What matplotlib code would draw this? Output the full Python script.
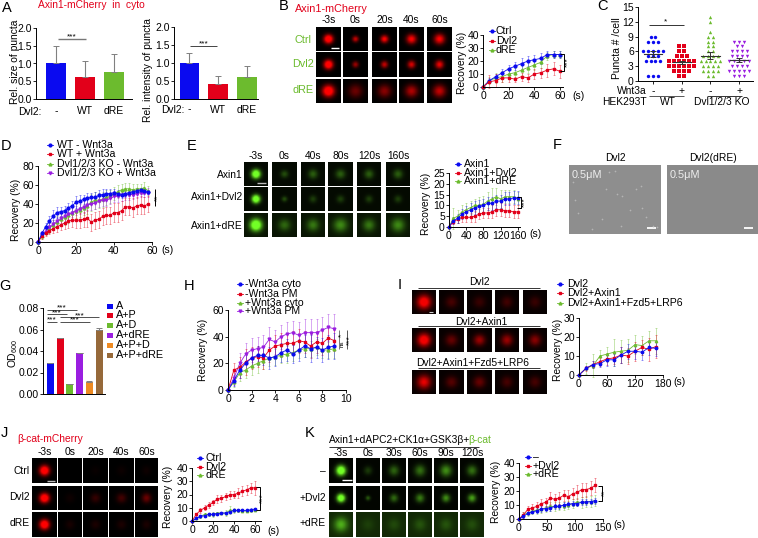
import numpy as np
import matplotlib
matplotlib.use('Agg')
import matplotlib.pyplot as plt

plt.rcParams['font.family'] = ['Liberation Sans', 'DejaVu Sans']
plt.rcParams['mathtext.default'] = 'regular'
plt.rcParams['font.size'] = 7.4

W, H = 758, 538
BLUE, RED, GREEN, PURPLE = '#0a0af0', '#e2001a', '#6cbb2e', '#9a1ee0'
ORANGE, BROWN = '#ee8a22', '#96693a'
COLORS = [BLUE, RED, GREEN, PURPLE]
MARKERS = ['o', 's', '^', 'v']

# panel A
a_labels = ['-', 'WT', 'dRE']
a_size = [1.0, 0.61, 0.75]
a_size_err = [0.5, 0.46, 0.52]
a_int = [1.0, 0.42, 0.62]
a_int_err = [0.28, 0.22, 0.30]

# panel B
b_t = [0, 5, 10, 15, 20, 25, 30, 35, 40, 45, 50, 55, 60]
b_ctrl = [0, 5, 8, 11, 14, 16, 18, 20, 21, 22, 25, 25, 25]
b_ctrl_e = [0, 2, 2, 3, 3, 3, 4, 4, 4, 4, 3, 3, 3]
b_dvl2 = [0, 4, 5, 7, 7, 6, 8, 7, 10, 11, 13, 14, 12]
b_dvl2_e = [0, 5, 5, 3, 3, 2, 3, 3, 4, 4, 5, 5, 5]
b_dre = [0, 5, 7, 8, 10, 11, 13, 15, 17, 19, 24, 25, 25]
b_dre_e = [0, 3, 4, 4, 4, 4, 4, 4, 4, 4, 3, 3, 3]

# panel C
c_labels = ['-', '+', '-', '+']
c_wt_minus = [9]*2 + [8]*3 + [6]*5 + [5]*3 + [4]*4 + [1]*3
c_wt_plus = [7]*2 + [6]*2 + [5]*3 + [4]*6 + [3]*6 + [2]*4 + [1]*2
c_ko_minus = [13, 12, 10] + [9]*2 + [8]*2 + [7]*2 + [6]*2 + [5]*4 + [4]*5 + [3]*4 + [2]*4 + [1]*2
c_ko_plus = [8]*3 + [7]*2 + [6]*4 + [5]*4 + [4]*5 + [3]*4 + [2]*5 + [1]*3
c_means = [5.4, 3.8, 5.1, 4.2]
c_sems = [0.6, 0.3, 0.7, 0.4]

# panel D
d_t = list(range(0, 60, 2))
d_wt = [0, 9, 16, 22, 27, 31, 32, 33, 36, 38, 42, 43, 45, 46, 47, 47, 49, 50, 51, 51, 52, 51, 50, 51, 52, 53, 54, 55, 54, 53]
d_wt_e = [0, 3, 4, 5, 7, 6, 5, 5, 5, 5, 6, 6, 5, 6, 5, 6, 6, 6, 5, 5, 4, 4, 4, 4, 4, 3, 3, 2, 2, 2]
d_wtw = [0, 6, 10, 12, 14, 16, 18, 20, 22, 23, 23, 23, 24, 25, 21, 23, 24, 27, 28, 28, 31, 31, 33, 37, 37, 36, 38, 39, 38, 40]
d_wtw_e = [0, 3, 4, 4, 4, 5, 5, 6, 7, 7, 8, 8, 8, 9, 9, 9, 9, 9, 9, 9, 10, 10, 10, 9, 9, 10, 9, 9, 9, 8]
d_ko = [0, 6, 11, 15, 18, 21, 24, 26, 28, 31, 33, 34, 36, 38, 42, 44, 44, 45, 47, 48, 51, 53, 55, 56, 56, 55, 56, 56, 57, 54]
d_ko_e = [0, 3, 4, 5, 5, 6, 7, 8, 8, 8, 8, 8, 8, 8, 9, 9, 8, 8, 8, 7, 7, 7, 6, 6, 6, 6, 5, 5, 6, 5]
d_kow = [0, 7, 11, 16, 19, 22, 25, 27, 29, 31, 33, 35, 37, 39, 40, 41, 43, 44, 44, 46, 48, 48, 49, 50, 50, 50, 51, 52, 52, 52]
d_kow_e = [0, 2, 3, 4, 4, 4, 5, 5, 5, 5, 5, 5, 6, 6, 6, 6, 6, 6, 6, 6, 6, 6, 6, 6, 6, 5, 5, 5, 5, 5]

# panel E
e_t = list(range(0, 170, 10))
e_axin = [0, 3, 4, 6, 7, 8, 9, 9.5, 10, 11, 11, 12, 12, 13, 13, 13.5, 13.5]
e_axin_e = [0, 1.5, 2, 2.5, 2.5, 3, 3, 3, 3, 3, 3, 3, 3, 3, 3, 3, 3]
e_dvl = [0, 2.5, 3.5, 4.5, 4.5, 4.5, 5, 6, 6.5, 6.5, 7, 8, 8, 7.5, 7.5, 7, 7]
e_dvl_e = [0, 1, 1.5, 2, 2, 2, 2.5, 2.5, 2.5, 2.5, 3, 3, 3, 3, 3, 3, 3]
e_dre = [0, 4, 5, 7, 8, 9, 10, 10, 10.5, 12, 13, 14, 13, 14, 14, 14, 13]
e_dre_e = [0, 5, 3, 3, 3, 3, 3, 4, 4, 4, 5, 4, 4, 3, 3, 3, 3]

# panel F specks, in percent of the frame
f_speck_x = [4, 6, 10, 25, 44, 50, 52, 58, 66, 73, 78, 79, 84, 91, 96, 36, 40, 56]
f_speck_y = [25, 50, 70, 93, 10, 8, 42, 45, 65, 35, 30, 62, 75, 88, 90, 78, 35, 88]

# panel G
g_labels = ['A', 'A+P', 'A+D', 'A+dRE', 'A+P+D', 'A+P+dRE']
g_vals = [0.029, 0.052, 0.009, 0.038, 0.0115, 0.060]
g_errs = [0.0003, 0.0005, 0.0003, 0.0006, 0.0002, 0.0015]
g_colors = [BLUE, RED, GREEN, PURPLE, ORANGE, BROWN]

# panel H
h_t = [0, 0.5, 1, 1.5, 2, 2.5, 3, 3.5, 4, 4.5, 5, 5.5, 6, 6.5, 7, 7.5, 8, 8.5, 9]
h_cyto = [0, 7, 15, 20, 24, 26, 26, 24, 25, 28, 30, 27, 30, 33, 31, 32, 30, 32, 33]
h_cyto_e = [0, 4, 6, 6, 7, 7, 7, 8, 7, 7, 8, 7, 8, 8, 10, 8, 9, 9, 10]
h_pm = [0, 15, 17, 21, 24, 25, 24, 30, 33, 34, 35, 35, 37, 36, 33, 36, 35, 39, 37]
h_pm_e = [0, 5, 8, 10, 8, 8, 8, 9, 8, 9, 8, 9, 9, 8, 9, 8, 9, 9, 8]
h_wcyto = [0, 6, 13, 15, 18, 20, 22, 24, 25, 26, 27, 28, 30, 31, 31, 32, 30, 30, 31]
h_wcyto_e = [0, 4, 6, 6, 7, 7, 6, 6, 6, 6, 7, 6, 6, 6, 6, 6, 6, 6, 7]
h_wpm = [0, 9, 20, 27, 30, 31, 32, 38, 36, 40, 42, 43, 41, 43, 43, 43, 45, 47, 46]
h_wpm_e = [0, 5, 8, 8, 9, 9, 9, 9, 9, 9, 9, 9, 10, 10, 10, 10, 10, 10, 11]

# panel I
i_t = list(range(0, 180, 15))
i_dvl = [0, 3.5, 5.5, 6, 8, 8, 10.5, 12.5, 12.5, 12, 14.5, 14]
i_dvl_e = [0, 1, 2, 2, 3, 3, 4, 4, 4, 4, 4, 4]
i_axin = [0, 3.5, 5.5, 7, 8.5, 9, 10.5, 10, 12.5, 14.5, 13.5, 15]
i_axin_e = [0, 1.5, 2, 2, 3, 3, 4, 4, 5, 4, 6, 6]
i_fzd = [0, 3.5, 5, 10, 11, 12, 12.5, 13, 16, 15.5, 18, 18]
i_fzd_e = [0, 3, 6, 3, 4, 7, 6, 6, 5, 5, 5, 7]

# panel J
j_t = list(range(0, 64, 4))
j_ctrl = [0, 2, 3.5, 4, 5, 5, 5.5, 6, 6, 7, 8, 8, 8, 8, 8.5, 9]
j_ctrl_e = [0, 0.5, 1, 1, 1, 1, 1, 1, 1, 1, 1, 1, 1, 1, 1, 1]
j_dvl = [0, 5, 8, 10, 12, 14, 16.5, 17, 18.5, 19.5, 20, 21, 22.5, 23.5, 25, 25]
j_dvl_e = [0, 1, 2, 2, 2, 2, 3, 3, 3, 3, 3, 4, 4, 4, 4, 5]
j_dre = [0, 2, 3.5, 5, 5, 5, 6, 6, 6, 8, 8, 8, 7.5, 7.5, 8, 8.5]
j_dre_e = [0, 0.5, 1, 1, 1, 2, 1, 1, 2, 3, 2, 1, 1, 1, 1, 1]

# panel K
k_t = list(range(0, 144, 8))
k_ctrl = [0, 2, 4, 5, 6, 7, 7.5, 8, 9, 9, 10, 10.5, 11, 11, 12, 12, 12.5, 13]
k_ctrl_e = [0, 1, 1, 1, 2, 2, 2, 2, 2, 2, 2, 2, 2, 2, 2, 2, 2, 2]
k_dvl = [0, 3, 7, 8, 9, 11, 12, 15, 14, 15, 17, 16, 18, 19, 21, 21, 22, 24]
k_dvl_e = [0, 2, 2, 3, 3, 3, 3, 4, 4, 4, 4, 5, 4, 5, 5, 5, 5, 5]
k_dre = [0, 3, 4.5, 5.5, 6.5, 7, 8, 9, 9, 9.5, 9.5, 10, 11, 12, 12, 12.5, 12.5, 13]
k_dre_e = [0, 2, 2, 2, 3, 3, 3, 3, 3, 3, 3, 3, 3, 3, 4, 4, 4, 4]

# micrographs: peak brightness and spot width (fraction of the frame) per row/column
b_amp = [[1.0, .65, .8, .8, .8], [1.0, .55, .65, .7, .75], [1.0, .42, .5, .6, .65]]
b_sig = [[.13, .09, .11, .14, .15], [.13, .09, .1, .11, .12], [.17, .2, .19, .18, .18]]
e_amp = [[1.0, .3, .35, .35, .35, .35], [1.0, .3, .25, .25, .25, .25], [1.0, .35, .4, .45, .4, .45]]
e_sig = [[.13, .11, .14, .14, .14, .14], [.12, .08, .11, .11, .11, .11], [.17, .17, .18, .2, .18, .2]]
i_amp = [[.9, .3, .25, .28, .25], [.9, .4, .55, .55, .5], [.75, .35, .4, .3, .3]]
i_sig = [[.2, .17, .17, .17, .17], [.19, .17, .16, .17, .17], [.2, .17, .17, .17, .17]]
j_amp = [[1.0, 0, .07, .09, .1], [1.0, .1, .25, .3, .42], [1.0, .14, .16, .16, .16]]
j_sig = [[.14, .14, .14, .14, .14], [.14, .14, .14, .14, .14], [.14, .14, .14, .14, .14]]
k_amp = [[1.0, .25, .38, .42, .5, .42], [1.0, .35, .4, .45, .5, .55], [.5, .14, .18, .22, .22, .2]]
k_sig = [[.14, .12, .15, .16, .17, .15], [.12, .07, .12, .13, .12, .12], [.2, .18, .18, .18, .18, .18]]

fig = plt.figure(figsize=(W / 100, H / 100), dpi=100)


def add_ax(left, right, top, bottom, xlim, ylim, xticks, yticks, ylabels=None, fs=7.5):
    ax = fig.add_axes([left / W, 1 - bottom / H, (right - left) / W, (bottom - top) / H])
    ax.set_xlim(xlim); ax.set_ylim(ylim)
    ax.set_xticks(xticks); ax.set_yticks(yticks)
    if ylabels:
        ax.set_yticklabels(ylabels)
    ax.spines[['top', 'right']].set_visible(False)
    ax.spines[['left', 'bottom']].set_linewidth(0.7)
    ax.tick_params(length=2, width=0.6, pad=1, labelsize=fs)
    ax.patch.set_alpha(0)
    return ax


def curve(ax, t, y, e, idx, ms=2.0):
    cont = ax.errorbar(t, y, yerr=e, color=COLORS[idx], marker=MARKERS[idx], ms=ms, lw=0.6,
                       elinewidth=0.45, capsize=1, capthick=0.45, clip_on=False)
    # whiskers read lighter than the line in the reference
    for part in list(cont[1]) + list(cont[2]):
        part.set_alpha(0.6)


def bar_panel(ax, vals, errs, colors, width):
    pos = np.arange(len(vals))
    ax.bar(pos, vals, width=width, color=colors)
    ax.errorbar(pos, vals, yerr=[np.zeros(len(errs)), errs], fmt='none', ecolor='#808080',
                elinewidth=0.8, capsize=2, capthick=0.7)


# overlay in pixel coordinates for micrographs, labels and brackets
ov = fig.add_axes([0, 0, 1, 1], zorder=5)
ov.patch.set_alpha(0)
ov.axis('off')


def txt(x, y, s, ha='center', color='black', fs=7.4, **kw):
    ov.text(x, y, s, ha=ha, va='center', color=color, fontsize=fs, **kw)


def line(xs, ys, color='black', lw=0.7):
    ov.plot(xs, ys, color=color, lw=lw, solid_capstyle='butt')


def micro(box, amp, sig, tint, bg=0.0):
    x0, x1, y0, y1 = box
    yy, xx = np.mgrid[-0.5:0.5:40j, -0.5:0.5:40j]
    v = np.clip(1.4 * amp ** 1.4 * np.exp(-(xx ** 2 + yy ** 2) / (2 * sig ** 2)) + bg, 0, 1)
    rgb = np.dstack([v * tint[0], v * tint[1], v * tint[2]])
    ov.imshow(rgb, extent=(x0, x1, y1, y0), aspect='auto', interpolation='bilinear', zorder=1)


def grid(cols, rows, amps, sigs, tint, bgs=None):
    for r, (y0, y1) in enumerate(rows):
        for c, (x0, x1) in enumerate(cols):
            bg = bgs[r] if bgs else 0.0
            micro((x0, x1, y0, y1), amps[r][c], sigs[r][c], tint, bg)


def legend(x, ys, names, idxs, text_x=None, fs=7.6):
    for y, name, i in zip(ys, names, idxs):
        ov.plot([x - 3, x + 3], [y, y], color=COLORS[i], lw=0.6)
        ov.plot([x], [y], marker=MARKERS[i], color=COLORS[i], ms=2)
        txt(text_x if text_x else x + 6, y, name, ha='left', fs=fs)


def stars(x, y, s='***', rot=0, fs=6):
    txt(x, y, s, rotation=rot, fs=fs)


def bracket(x0, x1, y0, y1):
    line([x0, x1, x1, x0], [y0, y0, y1, y1])


TINT_R = (1, 0, 0)
TINT_G = (0.45, 1, 0.15)

# A
ax = add_ax(36, 132, 28, 99, (-0.69, 2.62), (0, 2), [0, 1, 2], [0, .5, 1, 1.5, 2], ['0.0', '0.5', '1.0', '1.5', '2.0'])
bar_panel(ax, a_size, a_size_err, [BLUE, RED, GREEN], 0.66)
ax.set_xticklabels(a_labels); ax.tick_params(axis='x', length=0, pad=5)
ax = add_ax(174, 258, 27, 99, (-0.52, 2.38), (0, 2), [0, 1, 2], [0, .5, 1, 1.5, 2], ['0.0', '0.5', '1.0', '1.5', '2.0'])
bar_panel(ax, a_int, a_int_err, [BLUE, RED, GREEN], 0.66)
ax.set_xticklabels(a_labels); ax.tick_params(axis='x', length=0, pad=4)
txt(7, 8, 'A', fs=10.5)
txt(91, 5, 'Axin1-mCherry  in  cyto', color=RED)
line([58, 86], [39, 39], '#777777', 1); stars(72, 36.5)
line([190, 217], [46, 46], '#444444', 0.7); stars(204, 43.5)
txt(15, 62, 'Rel. size of puncta', rotation=90)
txt(148, 70, 'Rel. intensity of puncta', rotation=90)
txt(30, 112, 'Dvl2:'); txt(173, 110, 'Dvl2:')

# B
b_cols = [(316, 341), (343, 368), (372, 397), (399, 424), (427, 452)]
b_rows = [(27, 51), (52, 77), (79, 103)]
grid(b_cols, b_rows, b_amp, b_sig, TINT_R)
for (x0, x1), s in zip(b_cols, ['-3s', '0s', '20s', '40s', '60s']):
    txt((x0 + x1) / 2, 20, s)
for y, s in zip([40, 64, 90], ['Ctrl', 'Dvl2', 'dRE']):
    txt(303, y, s, color=GREEN, fs=7.8)
line([331, 339], [48, 48], 'white', 1)
txt(284, 6, 'B', fs=10.5)
txt(295, 9, 'Axin1-mCherry', ha='left', color=RED, fs=7.8)
ax = add_ax(483, 563, 35, 87, (0, 62.3), (0, 40), [0, 20, 40, 60], [0, 10, 20, 30, 40])
curve(ax, b_t, b_dre, b_dre_e, 2); curve(ax, b_t, b_ctrl, b_ctrl_e, 0); curve(ax, b_t, b_dvl2, b_dvl2_e, 1)
txt(462, 63, 'Recovery (%)', rotation=90)
legend(492, [31, 41, 50], ['Ctrl', 'Dvl2', 'dRE'], [0, 1, 2], 496)
bracket(560, 564, 54, 71); stars(568, 62, rot=90)
txt(572, 96, '(s)', ha='left')

# C
ax = add_ax(638, 753, 7, 81, (-0.52, 3.48), (0, 15), [0, 1, 2, 3], [0, 3, 6, 9, 12, 15])
for i, vals in enumerate([c_wt_minus, c_wt_plus, c_ko_minus, c_ko_plus]):
    vals = np.array(vals)
    for v in np.unique(vals):
        n = (vals == v).sum()
        ax.scatter(i + (np.arange(n) - (n - 1) / 2) * 0.17, [v] * n, s=6, marker=MARKERS[i],
                   color=COLORS[i], linewidths=0, clip_on=False)
    ax.plot([i - 0.32, i + 0.32], [c_means[i]] * 2, color='#333333', lw=0.8)
    ax.errorbar([i], [c_means[i]], yerr=[c_sems[i]], color='#333333', elinewidth=0.7, capsize=2.5, capthick=0.7)
ax.set_xticklabels(c_labels); ax.tick_params(axis='x', pad=1.5)
txt(602, 6, 'C', fs=10.5)
txt(617, 48, 'Puncta # /cell', rotation=90)
line([649, 684], [25, 25], '#333333'); stars(666, 21.5, '*')
txt(632, 91, 'Wnt3a'); txt(624, 102, 'HEK293T')
line([649, 684], [96, 96], '#555555'); line([707, 742], [96, 96], '#333333')
txt(668, 102, 'WT'); txt(722, 102, 'Dvl1/2/3 KO')

# D
ax = add_ax(38, 152, 166, 242, (0, 60), (0, 80), [0, 20, 40, 60], [0, 20, 40, 60, 80])
curve(ax, d_t, d_ko, d_ko_e, 2); curve(ax, d_t, d_kow, d_kow_e, 3)
curve(ax, d_t, d_wtw, d_wtw_e, 1); curve(ax, d_t, d_wt, d_wt_e, 0)
txt(6, 146, 'D', fs=10.5)
txt(16, 210, 'Recovery (%)', rotation=90)
legend(50, [145, 154, 164, 173], ['WT - Wnt3a', 'WT + Wnt3a', 'Dvl1/2/3 KO - Wnt3a', 'Dvl1/2/3 KO + Wnt3a'], [0, 1, 2, 3], 57)
line([155, 155], [189, 206]); stars(158, 198, '**', rot=90)
txt(161, 250, '(s)', ha='left')

# E
e_cols = [(244, 268), (272, 297), (301, 325), (328, 353), (357, 381), (386, 410)]
e_rows = [(162, 186), (187, 211), (213, 237)]
grid(e_cols, e_rows, e_amp, e_sig, TINT_G, [0.04, 0.04, 0.08])
for (x0, x1), s in zip(e_cols, ['-3s', '0s', '40s', '80s', '120s', '160s']):
    txt((x0 + x1) / 2, 156, s)
for y, s in zip([175, 197, 226], ['Axin1', 'Axin1+Dvl2', 'Axin1+dRE']):
    txt(243, y, s, ha='right')
line([257, 266], [183, 183], '#bbbbbb', 1)
txt(192, 146, 'E', fs=10.5)
ax = add_ax(449, 520, 173, 227, (0, 165), (0, 25), [0, 40, 80, 120, 160], [0, 5, 10, 15, 20, 25])
curve(ax, e_t, e_dre, e_dre_e, 2, 1.7); curve(ax, e_t, e_dvl, e_dvl_e, 1, 1.7); curve(ax, e_t, e_axin, e_axin_e, 0, 1.7)
txt(426, 204, 'Recovery (%)', rotation=90)
legend(458, [164, 173, 181], ['Axin1', 'Axin1+Dvl2', 'Axin1+dRE'], [0, 1, 2], 464)
bracket(517, 521, 197, 208); stars(525, 202, rot=90)
txt(529, 234, '(s)', ha='left')

# F
for (x0, x1), s, bg in zip([(569, 661), (667, 758)], ['Dvl2', 'Dvl2(dRE)'], ['#8e8e8e', '#8a8a8a']):
    ov.fill_between([x0, x1], 165, 234, color=bg, lw=0, zorder=1)
    txt((x0 + x1) / 2, 158, s)
    txt(x0 + 3, 175, '0.5\u03bcM', ha='left', color='#eeeeee', zorder=3, fs=7.8)
    line([x1 - 14, x1 - 5], [228, 228], 'white', 1.3)
ov.scatter(569 + 92 * np.array(f_speck_x) / 100, 165 + 69 * np.array(f_speck_y) / 100, s=1.5,
           color='#b4b4b4', linewidths=0, zorder=2)
txt(557, 145, 'F', fs=10.5)

# G
ax = add_ax(43, 105, 308, 394, (-0.75, 5.6), (0, 0.08), [], [0, .02, .04, .06, .08], ['0.00', '0.02', '0.04', '0.06', '0.08'])
bar_panel(ax, g_vals, g_errs, g_colors, 0.7)
txt(5, 286, 'G', fs=10.5)
txt(13, 353, 'OD$_{600}$', rotation=90)
for y, name, c in zip([306, 315, 325, 335, 345, 355], g_labels, g_colors):
    ov.fill_between([107, 113], y - 2.5, y + 2.5, color=c, lw=0)
    txt(116, y, name, ha='left', fs=7.8)
line([47, 77], [310, 310], '#333333', 0.6); stars(62, 308)
line([47, 67], [314, 314], '#333333', 0.6); stars(57, 312.5)
line([60, 99], [317, 317], '#333333', 0.6); stars(80, 315.5)
line([47, 57], [322, 322], '#333333', 0.6); stars(52, 320)
line([60, 90], [322, 322], '#333333', 0.6); stars(75, 320)

# H
ax = add_ax(228, 346, 310, 390, (0, 10), (0, 60), [0, 2, 4, 6, 8, 10], [0, 20, 40, 60])
curve(ax, h_t, h_wcyto, h_wcyto_e, 2); curve(ax, h_t, h_wpm, h_wpm_e, 3)
curve(ax, h_t, h_pm, h_pm_e, 1); curve(ax, h_t, h_cyto, h_cyto_e, 0)
txt(189, 286, 'H', fs=10.5)
txt(203, 350, 'Recovery (%)', rotation=90)
legend(240, [284, 294, 303, 311], ['-Wnt3a cyto', '-Wnt3a PM', '+Wnt3a cyto', '+Wnt3a PM'], [0, 1, 2, 3], 245)
line([339, 339], [330, 349], '#777777'); line([347, 347], [330, 349], '#555555')
stars(342, 335, '*', rot=90); txt(342, 344, 'ns', rotation=90, fs=4.5); stars(350, 340, rot=90)

# I
i_cols = [(412, 436), (439, 464), (467, 492), (495, 519), (523, 547)]
i_rows = [(290, 314), (328, 352), (370, 394)]
grid(i_cols, i_rows, i_amp, i_sig, (0.95, 0, 0), [0.03, 0.03, 0.03])
txt(400, 285, 'I', fs=10.5)
for x, y, ly, s in zip([479, 481, 473], [282, 322, 363], [288, 326, 368], ['Dvl2', 'Dvl2+Axin1', 'Dvl2+Axin1+Fzd5+LRP6']):
    txt(x, y, s)
    line([418, 540], [ly, ly], '#333333', 0.7)
line([429, 433], [312, 312], '#cccccc', 0.8)
ax = add_ax(579, 663, 318, 375, (0, 180), (0, 30), [0, 60, 120, 180], [0, 10, 20, 30])
curve(ax, i_t, i_fzd, i_fzd_e, 2, 1.7); curve(ax, i_t, i_axin, i_axin_e, 1, 1.7); curve(ax, i_t, i_dvl, i_dvl_e, 0, 1.7)
txt(558, 350, 'Recovery (%)', rotation=90)
legend(560, [284, 293, 303], ['Dvl2', 'Dvl2+Axin1', 'Dvl2+Axin1+Fzd5+LRP6'], [0, 1, 2], 567)
txt(673, 382, '(s)', ha='left')

# J
j_cols = [(32, 57), (58, 82), (83, 108), (109, 134), (135, 158)]
j_rows = [(458, 483), (486, 510), (512, 537)]
grid(j_cols, j_rows, j_amp, j_sig, TINT_R)
for (x0, x1), s in zip(j_cols, ['-3s', '0s', '20s', '40s', '60s']):
    txt((x0 + x1) / 2, 452, s)
for y, s in zip([471, 497, 523], ['Ctrl', 'Dvl2', 'dRE']):
    txt(30, y, s, ha='right')
line([47, 55], [481, 481], '#bbbbbb', 1)
txt(4, 433, 'J', fs=10.5)
txt(17, 439, '\u03b2-cat-mCherry', ha='left', color=RED)
ax = add_ax(192, 261, 468, 521, (0, 65.7), (0, 40), [0, 20, 40, 60], [0, 10, 20, 30, 40])
curve(ax, j_t, j_dre, j_dre_e, 2, 1.7); curve(ax, j_t, j_dvl, j_dvl_e, 1, 1.7); curve(ax, j_t, j_ctrl, j_ctrl_e, 0, 1.7)
txt(168, 497, 'Recovery (%)', rotation=90)
legend(200, [458, 467, 475], ['Ctrl', 'Dvl2', 'dRE'], [0, 1, 2], 205)
line([256, 260, 260, 256], [487, 487, 510, 510]); stars(263, 498, rot=90)
txt(267, 531, '(s)', ha='left')

# K
k_cols = [(329, 353), (356, 380), (382, 406), (408, 432), (434, 458), (460, 484)]
k_rows = [(458, 483), (486, 510), (512, 537)]
grid(k_cols, k_rows, k_amp, k_sig, TINT_G, [0.02, 0.02, 0.16])
for (x0, x1), s in zip(k_cols, ['-3s', '0s', '30s', '60s', '90s', '120s']):
    txt((x0 + x1) / 2, 453, s)
for y, s in zip([471, 498, 523], ['\u2013', '+Dvl2', '+dRE']):
    txt(326, y, s, ha='right')
line([342, 352], [480, 480], 'white', 1)
txt(310, 433, 'K', fs=10.5)
txt(329, 440, 'Axin1+dAPC2+CK1\u03b1+GSK3\u03b2+', ha='left')
txt(468, 440, '\u03b2-cat', ha='left', color=GREEN)
line([329, 479], [447, 447], '#333333', 0.7)
ax = add_ax(519, 603, 463, 519, (0, 150), (0, 40), [0, 50, 100, 150], [0, 10, 20, 30, 40])
curve(ax, k_t, k_dre, k_dre_e, 2, 1.7); curve(ax, k_t, k_dvl, k_dvl_e, 1, 1.7); curve(ax, k_t, k_ctrl, k_ctrl_e, 0, 1.7)
txt(496, 492, 'Recovery (%)', rotation=90)
legend(528, [457, 466, 474], ['\u2013', '+Dvl2', '+dRE'], [0, 1, 2], 533)
line([598, 602, 602, 598], [486, 486, 501, 501]); stars(605, 493, '**', rot=90)
txt(613, 525, '(s)', ha='left')

ov.set_xlim(0, W)
ov.set_ylim(H, 0)
fig.savefig('out.png', dpi=100)
